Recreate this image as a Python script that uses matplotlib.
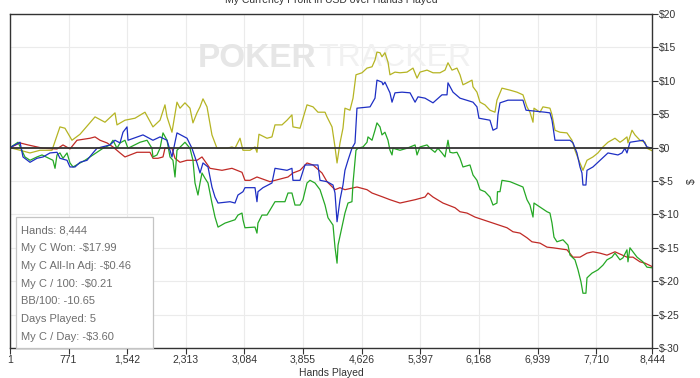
import matplotlib
matplotlib.use("Agg")
import matplotlib.pyplot as plt
from matplotlib.ticker import FuncFormatter
from matplotlib.patches import Rectangle

plt.rcParams['font.family'] = ['Liberation Sans', 'DejaVu Sans']

# ---- data (hands played, running $) ----
yellow_hands = [1, 264, 396, 553, 658, 724, 816, 922, 1119, 1250,
                1382, 1408, 1513, 1645, 1776, 1881, 1974, 2039, 2066, 2131,
                2197, 2237, 2302, 2368, 2407, 2460, 2500, 2539, 2592, 2657,
                2723, 2855, 2920, 2960, 3026, 3065, 3157, 3223, 3249, 3275,
                3381, 3446, 3486, 3578, 3644, 3709, 3722, 3815, 3907, 3986,
                4051, 4144, 4170, 4236, 4275, 4302, 4341, 4380, 4406, 4472,
                4512, 4551, 4630, 4696, 4762, 4801, 4827, 4867, 4893, 4932,
                4972, 4998, 5064, 5130, 5222, 5301, 5354, 5393, 5485, 5564,
                5656, 5722, 5761, 5814, 5879, 5919, 5958, 6011, 6077, 6090,
                6142, 6182, 6247, 6313, 6379, 6405, 6471, 6577, 6668, 6747,
                6800, 6839, 6879, 6892, 6971, 7010, 7102, 7129, 7168, 7234,
                7326, 7392, 7431, 7471, 7536, 7589, 7667, 7733, 7799, 7865,
                7957, 8023, 8062, 8115, 8128, 8181, 8220, 8286, 8352, 8378,
                8444]
yellow_vals = [0.0, -0.8, -0.4, -0.4, 3.1, 2.9, 1.1, 2.0, 4.6, 3.8,
               5.2, 3.4, 4.1, 4.4, 5.3, 3.1, 4.1, 6.4, 4.6, 2.3,
               6.8, 5.9, 6.7, 5.9, 3.7, 5.2, 6.1, 7.3, 6.1, 1.9,
               -0.1, -0.1, 0.1, -0.1, 1.4, -0.4, -0.4, 0.1, -0.7, 2.0,
               1.4, 1.6, 3.4, 3.4, 4.1, 4.9, 3.1, 2.9, 6.4, 6.1,
               5.3, 5.3, 4.6, 3.1, 0.1, -2.3, 0.7, 2.9, 5.9, 5.6,
               7.4, 10.9, 11.2, 11.9, 12.1, 13.1, 14.3, 14.2, 13.6, 14.2,
               12.8, 10.9, 11.3, 11.2, 11.3, 11.9, 10.4, 11.3, 11.6, 11.2,
               11.2, 11.6, 12.7, 11.6, 11.9, 10.9, 9.4, 9.7, 10.1, 9.1,
               8.3, 6.8, 6.4, 5.6, 5.3, 7.1, 8.9, 8.6, 8.3, 7.9,
               6.1, 5.3, 3.8, 5.9, 5.3, 6.1, 5.9, 4.9, 2.6, 2.3,
               2.2, 1.1, -0.4, -1.6, -3.4, -1.9, -1.4, -0.8, 0.1, 0.8,
               1.4, 0.8, 1.1, 1.6, 0.7, 2.6, 1.9, 1.1, 0.8, -0.1,
               -0.46]

blue_hands = [1, 133, 172, 264, 356, 435, 527, 619, 658, 751,
              790, 856, 922, 1014, 1092, 1145, 1316, 1382, 1448, 1487,
              1540, 1553, 1750, 1881, 1974, 2066, 2131, 2171, 2197, 2329,
              2394, 2460, 2500, 2539, 2605, 2657, 2697, 2737, 2894, 2960,
              2999, 3065, 3091, 3223, 3249, 3262, 3328, 3446, 3486, 3644,
              3709, 3722, 3815, 3880, 4051, 4078, 4170, 4249, 4275, 4302,
              4341, 4380, 4406, 4446, 4498, 4538, 4564, 4736, 4801, 4827,
              4893, 4906, 4932, 4998, 5025, 5064, 5156, 5262, 5328, 5367,
              5459, 5564, 5682, 5748, 5761, 5827, 5919, 6090, 6142, 6168,
              6313, 6353, 6405, 6418, 6445, 6550, 6747, 6787, 7036, 7102,
              7129, 7168, 7366, 7405, 7457, 7497, 7523, 7536, 7575, 7589,
              7667, 7733, 7865, 7996, 8049, 8088, 8115, 8154, 8325, 8378,
              8444]
blue_vals = [0.0, 0.8, -1.4, -2.2, -1.6, -1.4, -0.8, -0.7, -1.6, -1.9,
             -2.9, -2.9, -2.2, -1.9, -0.8, -0.1, 0.4, 1.1, 0.7, 2.3,
             3.1, 1.1, 1.9, 1.1, 1.6, 1.1, -1.4, 0.8, 2.2, 1.4,
             -0.1, -2.3, -3.8, -2.3, -2.9, -5.9, -7.4, -8.3, -8.1, -8.3,
             -7.1, -6.6, -6.0, -6.0, -8.1, -6.6, -6.0, -5.3, -3.1, -3.4,
             -3.1, -4.9, -4.9, -2.6, -2.6, -4.9, -5.1, -5.6, -6.8, -11.1,
             -7.8, -5.6, -3.4, -1.9, -0.1, 0.7, 5.9, 6.1, 7.4, 10.1,
             9.8, 9.4, 9.8, 8.2, 6.8, 8.2, 8.3, 8.2, 6.8, 7.6,
             7.4, 6.7, 7.9, 7.9, 9.7, 8.3, 7.4, 6.8, 6.1, 4.4,
             4.1, 2.6, 2.9, 4.9, 6.7, 7.1, 7.1, 5.6, 5.3, 5.2,
             4.1, 1.1, 1.1, 0.7, -0.8, -2.9, -3.8, -5.6, -5.6, -3.4,
             -2.9, -2.2, -0.8, -1.1, -0.8, -0.1, -0.8, 0.8, 1.1, 0.1,
             -0.1]

green_hands = [1, 106, 198, 264, 356, 422, 566, 593, 619, 658,
               698, 751, 790, 830, 922, 987, 1053, 1145, 1224, 1316,
               1355, 1408, 1448, 1513, 1553, 1711, 1803, 1868, 1881, 1934,
               1974, 2013, 2066, 2105, 2144, 2171, 2197, 2302, 2368, 2407,
               2434, 2473, 2500, 2526, 2566, 2605, 2657, 2697, 2737, 2829,
               2960, 2999, 3052, 3065, 3091, 3223, 3249, 3262, 3315, 3381,
               3486, 3617, 3657, 3709, 3749, 3815, 3854, 3907, 3946, 4012,
               4078, 4144, 4183, 4249, 4275, 4302, 4315, 4367, 4406, 4446,
               4498, 4512, 4551, 4577, 4643, 4696, 4709, 4762, 4801, 4827,
               4867, 4893, 4932, 4972, 4998, 5025, 5038, 5130, 5222, 5328,
               5354, 5393, 5485, 5525, 5590, 5629, 5682, 5722, 5761, 5787,
               5827, 5879, 5919, 5958, 6050, 6090, 6142, 6182, 6247, 6313,
               6353, 6405, 6412, 6445, 6471, 6577, 6681, 6747, 6800, 6839,
               6879, 6892, 6971, 7063, 7102, 7129, 7155, 7194, 7273, 7339,
               7366, 7431, 7471, 7510, 7536, 7575, 7589, 7654, 7733, 7799,
               7852, 7917, 7957, 8023, 8062, 8115, 8128, 8154, 8194, 8247,
               8325, 8378, 8444]
green_vals = [0.0, 0.8, -1.4, -1.9, -1.4, -1.1, -1.9, -3.1, -1.1, -0.8,
              -1.6, -0.8, -2.3, -2.9, -2.3, -1.9, -1.4, -0.7, -0.1, 0.4,
              1.1, -0.1, 0.7, 1.1, -0.1, 0.8, 1.1, -0.1, -1.4, -1.1,
              -0.1, 2.2, 1.1, -1.4, -1.9, -4.4, -0.4, 0.8, -0.1, -1.9,
              -5.3, -7.1, -5.3, -3.8, -4.6, -5.3, -8.3, -10.4, -11.9, -11.3,
              -10.8, -10.1, -9.8, -10.8, -12.0, -11.9, -12.8, -11.3, -10.1, -10.1,
              -8.1, -8.1, -6.8, -6.8, -8.6, -8.6, -7.8, -5.3, -4.9, -5.3,
              -6.3, -8.6, -10.5, -11.6, -14.9, -17.3, -14.6, -11.9, -9.8, -8.3,
              -8.1, -5.3, -0.4, -0.1, 0.1, 0.8, 1.6, 1.1, 2.6, 3.7,
              3.1, 1.9, 2.3, 1.1, -0.4, -1.1, -0.1, -0.4, -0.1, 0.4,
              -1.1, 0.1, 0.4, -0.1, -0.7, -0.1, -0.8, -1.4, 1.1, -0.7,
              -0.8, -0.7, -1.6, -2.9, -2.6, -4.1, -4.9, -6.3, -6.6, -7.4,
              -8.6, -8.3, -6.6, -6.6, -4.9, -5.1, -5.6, -5.9, -7.8, -8.6,
              -10.4, -8.3, -8.9, -9.6, -9.8, -11.3, -13.4, -14.1, -13.8, -14.6,
              -16.1, -16.8, -18.3, -20.1, -21.8, -21.8, -19.5, -18.8, -18.3, -17.6,
              -16.8, -16.4, -15.8, -16.8, -16.5, -15.3, -17.1, -15.0, -15.6, -16.4,
              -17.1, -17.9, -17.99]

red_hands = [1, 133, 238, 435, 619, 698, 790, 882, 1053, 1119,
             1185, 1277, 1355, 1448, 1513, 1671, 1842, 1881, 1947, 2013,
             2039, 2131, 2171, 2237, 2329, 2460, 2526, 2631, 2789, 2920,
             3052, 3091, 3157, 3249, 3420, 3657, 3722, 3815, 3907, 3986,
             4104, 4170, 4275, 4341, 4406, 4564, 4696, 4762, 4906, 4998,
             5130, 5328, 5459, 5498, 5564, 5695, 5853, 5919, 6011, 6116,
             6221, 6353, 6537, 6616, 6708, 6800, 6865, 6971, 7063, 7142,
             7326, 7405, 7497, 7589, 7667, 7760, 7852, 7957, 8115, 8194,
             8286, 8352, 8444]
red_vals = [0.0, 0.7, 0.4, -0.1, -0.2, 0.4, -0.2, 1.1, 1.4, 1.6,
            1.1, 0.7, 0.1, -0.8, -1.4, -0.7, -0.7, -1.6, -1.6, -1.4,
            -0.1, -0.1, -1.6, -2.2, -1.9, -1.9, -1.4, -3.1, -3.4, -3.1,
            -3.7, -4.9, -4.9, -4.4, -5.1, -4.4, -3.8, -3.4, -2.3, -2.6,
            -3.8, -5.1, -6.3, -6.0, -6.3, -5.9, -6.3, -6.8, -7.4, -7.8,
            -8.3, -7.8, -7.4, -6.8, -7.4, -8.3, -9.0, -9.6, -9.8, -10.4,
            -10.8, -11.3, -12.0, -12.6, -12.8, -13.5, -14.1, -14.3, -14.9, -15.0,
            -15.3, -16.4, -16.4, -15.8, -15.6, -15.8, -16.1, -15.6, -16.4, -16.4,
            -17.1, -17.3, -17.8]

x_ticks = [1, 771, 1542, 2313, 3084, 3855, 4626, 5397, 6168, 6939, 7710, 8444]
y_ticks = [-30, -25, -20, -15, -10, -5, 0, 5, 10, 15, 20]

stats = ["Hands: 8,444",
         "My C Won: -$17.99",
         "My C All-In Adj: -$0.46",
         "My C / 100: -$0.21",
         "BB/100: -10.65",
         "Days Played: 5",
         "My C / Day: -$3.60"]

# ---- figure ----
fig = plt.figure(figsize=(7, 3.78), dpi=100)
ax = fig.add_axes([10 / 700, 30 / 378, 642 / 700, 334 / 378])
ax.set_axisbelow(True)

ax.plot(yellow_hands, yellow_vals, color='#b5b423', lw=0.9, zorder=2)
ax.plot(red_hands, red_vals, color='#c02a26', lw=0.9, zorder=2)
ax.plot(green_hands, green_vals, color='#25a825', lw=0.9, zorder=2)
ax.plot(blue_hands, blue_vals, color='#1e2fc4', lw=0.9, zorder=2)
ax.axhline(0, color='#333333', lw=1.3, zorder=3)

ax.set_xlim(1, 8444)
ax.set_ylim(-30, 20)
ax.set_xticks(x_ticks)
ax.set_xticklabels([f"{t:,}" for t in x_ticks])
ax.set_yticks(y_ticks)
ax.yaxis.set_major_formatter(FuncFormatter(lambda v, p: f"${int(v)}"))
ax.yaxis.tick_right()
ax.yaxis.set_label_position('right')
ax.grid(color='#ebebeb', lw=0.8)

for s in ax.spines.values():
    s.set_color('#333333')
    s.set_linewidth(1.0)
ax.tick_params(axis='both', length=4, width=0.8, color='#333333',
               labelsize=7.5, labelcolor='#333333', pad=1.0)

ax.set_xlabel("Hands Played", fontsize=7.5, color='#333333', labelpad=2)
ax.set_ylabel("$", fontsize=7.5, color='#333333', labelpad=5)

fig.text(10 / 700 + 321 / 700, 1.0, "My Currency Profit in USD over Hands Played",
         ha='center', va='center', fontsize=7.5, color='#333333')

# watermark
ax.text(0.293, 0.868, "POKER", transform=ax.transAxes, fontsize=24,
        fontweight='bold', color='#e6e6e6', va='center', ha='left', zorder=1)
ax.text(0.48, 0.868, "TRACKER", transform=ax.transAxes, fontsize=23,
        color='#f1f1f1', va='center', ha='left', zorder=1)

# stats box
ax.add_patch(Rectangle((0.0093, 0.0), 0.2134, 0.392, transform=ax.transAxes,
                       facecolor='white', edgecolor='#c4c4c4', lw=0.9,
                       zorder=5, clip_on=False))
for i, line in enumerate(stats):
    ax.text(0.017, 0.353 - i * 0.0533, line, transform=ax.transAxes,
            fontsize=8, color='#6e6e6e', va='center', ha='left', zorder=6)

fig.savefig("out.png", dpi=100)
